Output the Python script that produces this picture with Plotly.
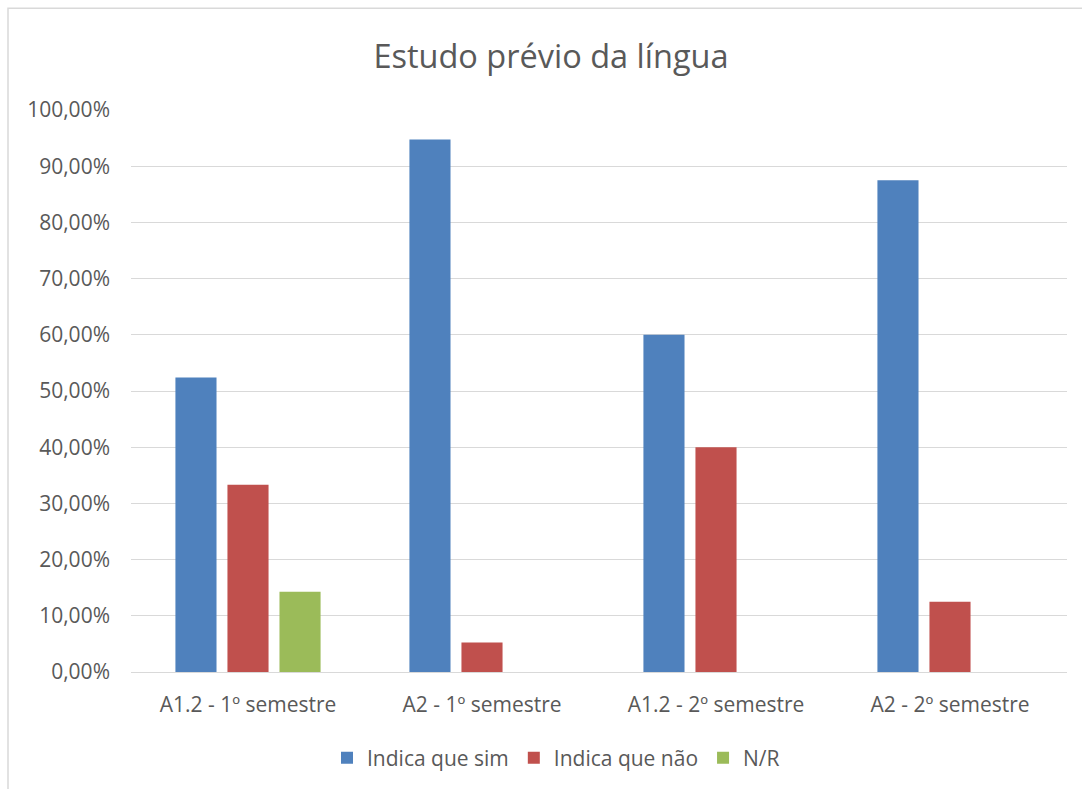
import plotly.graph_objects as go

# Categories and series (share of students, 0-1)
categories = ["A1.2 - 1º semestre", "A2 - 1º semestre", "A1.2 - 2º semestre", "A2 - 2º semestre"]
sim = [0.5238, 0.9474, 0.60, 0.875]
nao = [0.3333, 0.0526, 0.40, 0.125]
nr = [0.1429, None, None, None]

series_names = ["Indica que sim", "Indica que não", "N/R"]
colors = ["#4F81BD", "#C0504D", "#9BBB59"]

font_family = "'Open Sans', sans-serif"
text_color = "#595959"

fig = go.Figure()
for name, vals, col in zip(series_names, [sim, nao, nr], colors):
    fig.add_trace(go.Bar(x=categories, y=vals, name=name, marker=dict(color=col, line=dict(width=0))))

L, R, T, B = 131, 15, 110, 116
W, H = 1082, 789
pw, ph = W - L - R, H - T - B

def px_x(x):
    return (x - L) / pw

def px_y(y):
    return (H - B - y) / ph

fig.update_layout(
    width=W, height=H,
    margin=dict(l=L, r=R, t=T, b=B),
    paper_bgcolor="white", plot_bgcolor="white",
    separators=",.",
    barmode="group", bargap=0.333, bargroupgap=0.21,
    font=dict(family=font_family, color=text_color, size=21),
    title=dict(text="Estudo prévio da língua", x=(375 + 727) / 2 / W, xanchor="center",
               y=1 - 57 / H, yanchor="middle", yref="container",
               font=dict(size=32.5, color=text_color, family=font_family)),
    xaxis=dict(showgrid=False, showline=True, linecolor="#d9d9d9", linewidth=1,
               ticks="", tickfont=dict(size=21, color=text_color), ticklabelstandoff=14),
    yaxis=dict(range=[0, 1], dtick=0.1, tickformat=".2%", showgrid=True, gridcolor="#d9d9d9",
               gridwidth=1, zeroline=False, showline=False, ticks="",
               tickfont=dict(size=21, color=text_color), ticklabelstandoff=20),
    legend=dict(orientation="h", x=px_x(556), xanchor="center", y=px_y(758), yanchor="middle",
                font=dict(size=21, color=text_color), traceorder="normal"),
    showlegend=True,
    shapes=[dict(type="rect", xref="paper", yref="paper",
                 x0=px_x(8), x1=px_x(1090), y0=px_y(795), y1=px_y(8),
                 line=dict(color="#d9d9d9", width=1.5), fillcolor="rgba(0,0,0,0)", layer="below")],
)

fig.write_html("out.html")
